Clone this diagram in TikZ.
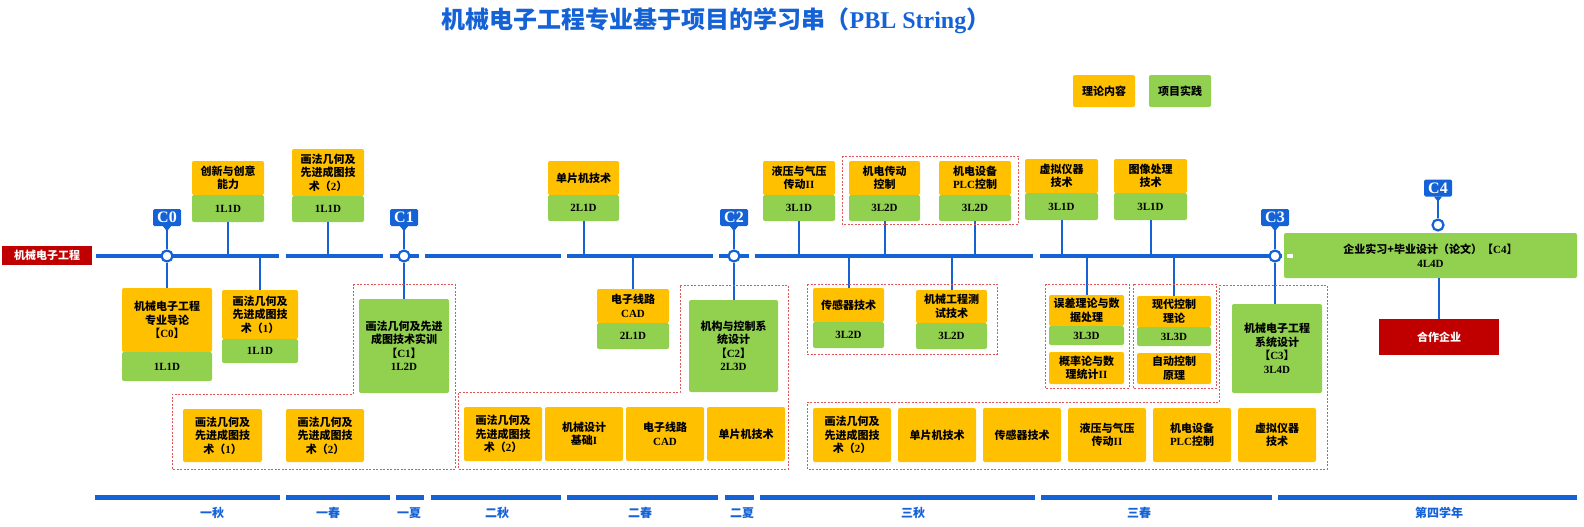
\documentclass[tikz,border=0pt]{standalone}
\usepackage{fontspec}
\setmainfont{Noto Sans CJK SC}
\newfontfamily\latinfont{Liberation Serif}
\usetikzlibrary{positioning, calc}
\definecolor{Orange}{HTML}{FFC000}
\definecolor{Green}{HTML}{92D050}
\definecolor{Blue}{HTML}{1462D6}
\definecolor{Deep}{HTML}{C00000}
\definecolor{Zone}{HTML}{E05555}
\newcommand{\tm}[1]{{\latinfont\bfseries #1}}
\newcommand{\huafa}[1]{画法几何及\\先进成图技\\术（\tm{#1}）}
\tikzset{
    lilun/.style={rectangle, rounded corners=2pt, fill=Orange, text=black, align=center, inner sep=1pt, outer sep=0pt, font=\fontsize{11}{13.5}\selectfont\bfseries},
    shijian/.style={lilun, fill=Green},
    code/.style={shijian, font=\fontsize{11}{13}\selectfont\latinfont\bfseries},
    spine/.style={Blue, line width=4pt},
    link/.style={Blue, line width=2pt},
    zone/.style={Zone, line width=0.7pt, dash pattern=on 2pt off 1.5pt},
    ctag/.style={rectangle, rounded corners=1.5pt, fill=Blue, text=white, minimum width=28pt, minimum height=17pt, inner sep=0pt, font=\fontsize{16}{16}\selectfont\latinfont\bfseries},
    cring/.style={circle, draw=Blue, fill=white, line width=2.2pt, minimum size=11pt, inner sep=0pt},
    redbox/.style={rectangle, fill=Deep, text=white, inner sep=0pt, font=\fontsize{11}{13}\selectfont\bfseries},
    termbar/.style={Blue, line width=5pt},
    termlabel/.style={text=Blue, inner sep=1pt, font=\fontsize{12}{14}\selectfont\bfseries},
}
\begin{document}
\begin{tikzpicture}[x=1pt, y=-1pt]
    \useasboundingbox (0,0) rectangle (1584,527);
    \coordinate (axis) at (0,256);

    % titel en legenda
    \node[font=\fontsize{24}{28}\selectfont\bfseries, text=Blue] (title) at (716,21) {机械电子工程专业基于项目的学习串（\tm{PBL String}）};
    \node[lilun, minimum width=62pt, minimum height=32pt] (leg1) at (1104,91) {理论内容};
    \node[shijian, minimum width=62pt, minimum height=32pt] (leg2) at (1180,91) {项目实践};

    % hoofdlijn
    \foreach \a/\b in {96/279, 286/383, 390/419, 425/561, 567/713, 719/749, 755/1033, 1040/1282}
        \draw[spine] (\a,256) -- (\b,256);
    \node[redbox, minimum width=90pt, minimum height=19pt] (major) at (47,255.5) {机械电子工程};

    % vakken boven de lijn
    \node[lilun, minimum width=72pt, minimum height=34pt] (cx) at (228,178) {创新与创意\\能力};
    \node[code, minimum width=72pt, minimum height=27pt, below=0pt of cx] (cx-d) {1L1D};
    \node[lilun, minimum width=72pt, minimum height=47pt] (hf2) at (328,172.5) {\huafa{2}};
    \node[code, minimum width=72pt, minimum height=26pt, below=0pt of hf2] (hf2-d) {1L1D};
    \node[lilun, minimum width=71pt, minimum height=34pt] (dp) at (583.5,178) {单片机技术};
    \node[code, minimum width=71pt, minimum height=26pt, below=0pt of dp] (dp-d) {2L1D};
    \node[lilun, minimum width=72pt, minimum height=34pt] (yy) at (799,178) {液压与气压\\传动\tm{II}};
    \node[code, minimum width=72pt, minimum height=26pt, below=0pt of yy] (yy-d) {3L1D};
    \node[lilun, minimum width=71pt, minimum height=34pt] (jd) at (884.5,178) {机电传动\\控制};
    \node[code, minimum width=71pt, minimum height=26pt, below=0pt of jd] (jd-d) {3L2D};
    \node[lilun, minimum width=72pt, minimum height=34pt] (plc) at (975,178) {机电设备\\\tm{PLC}控制};
    \node[code, minimum width=72pt, minimum height=26pt, below=0pt of plc] (plc-d) {3L2D};
    \node[lilun, minimum width=73pt, minimum height=34pt] (xn) at (1061.5,176) {虚拟仪器\\技术};
    \node[code, minimum width=73pt, minimum height=27pt, below=0pt of xn] (xn-d) {3L1D};
    \node[lilun, minimum width=73pt, minimum height=34pt] (tx) at (1150.5,176) {图像处理\\技术};
    \node[code, minimum width=73pt, minimum height=27pt, below=0pt of tx] (tx-d) {3L1D};
    \foreach \n in {cx, hf2, dp, yy, jd, plc, xn, tx}
        \draw[link] (\n-d.south) -- (\n-d.south |- axis);

    % vakken onder de lijn
    \node[lilun, minimum width=90pt, minimum height=64pt] (dl) at (167,320) {机械电子工程\\专业导论\\【\tm{C0}】};
    \node[code, minimum width=90pt, minimum height=29pt, below=0pt of dl] (dl-d) {1L1D};
    \node[lilun, minimum width=76pt, minimum height=49pt] (hf1) at (260,314.5) {\huafa{1}};
    \node[code, minimum width=76pt, minimum height=24pt, below=0pt of hf1] (hf1-d) {1L1D};
    \node[shijian, minimum width=90pt, minimum height=94pt] (sx1) at (404,346) {画法几何及先进\\成图技术实训\\【\tm{C1}】\\\tm{1L2D}};
    \node[lilun, minimum width=72pt, minimum height=34pt] (dz) at (633,306) {电子线路\\\tm{CAD}};
    \node[code, minimum width=72pt, minimum height=26pt, below=0pt of dz] (dz-d) {2L1D};
    \node[shijian, minimum width=89pt, minimum height=92pt] (sx2) at (733.5,346) {机构与控制系\\统设计\\【\tm{C2}】\\\tm{2L3D}};
    \node[lilun, minimum width=71pt, minimum height=34pt] (cg) at (848.5,305) {传感器技术};
    \node[code, minimum width=71pt, minimum height=26pt, below=0pt of cg] (cg-d) {3L2D};
    \node[lilun, minimum width=71pt, minimum height=33pt] (cs) at (951.5,306.5) {机械工程测\\试技术};
    \node[code, minimum width=71pt, minimum height=26pt, below=0pt of cs] (cs-d) {3L2D};
    \node[lilun, minimum width=75pt, minimum height=31pt] (wc) at (1086.5,310.5) {误差理论与数\\据处理};
    \node[code, minimum width=75pt, minimum height=19pt, below=0pt of wc] (wc-d) {3L3D};
    \node[lilun, minimum width=75pt, minimum height=32pt] (gl) at (1086.5,368) {概率论与数\\理统计\tm{II}};
    \node[lilun, minimum width=74pt, minimum height=31pt] (xd) at (1174,311.5) {现代控制\\理论};
    \node[code, minimum width=74pt, minimum height=19pt, below=0pt of xd] (xd-d) {3L3D};
    \node[lilun, minimum width=74pt, minimum height=31pt] (zd) at (1174,368.5) {自动控制\\原理};
    \node[shijian, minimum width=90pt, minimum height=89pt] (sx3) at (1277,348.5) {机械电子工程\\系统设计\\【\tm{C3}】\\\tm{3L4D}};
    \foreach \n in {hf1, dz, cg, cs, wc, xd}
        \draw[link] (\n.north |- axis) -- (\n.north);

    % mijlpalen C0--C3
    \foreach \x/\n in {167/0, 404/1, 734/2, 1275/3} {
        \node[ctag] (tag\n) at (\x,217.5) {C\n};
        \fill[Blue] ($(tag\n.south)+(-4,0)$) -- ($(tag\n.south)+(0,5)$) -- ($(tag\n.south)+(4,0)$) -- cycle;
        \node[cring] (ring\n) at (\x,256) {};
        \draw[Blue, line width=1.5pt] (tag\n.south) -- (ring\n.north);
    }
    \draw[link] (ring0.south) -- (dl.north);
    \draw[link] (ring1.south) -- (sx1.north);
    \draw[link] (ring2.south) -- (ring2.south |- sx2.north);
    \draw[link] (ring3.south) -- (ring3.south |- sx3.north);

    % vierde jaar
    \node[shijian, minimum width=293pt, minimum height=45pt] (qy) at (1430.5,255.5) {企业实习+毕业设计（论文）【\tm{C4}】\\\tm{4L4D}};
    \fill[white] (1287,254) rectangle (1293,258);
    \node[ctag] (tag4) at (1438,188) {C4};
    \fill[Blue] ($(tag4.south)+(-4,0)$) -- ($(tag4.south)+(0,5)$) -- ($(tag4.south)+(4,0)$) -- cycle;
    \node[cring] (ring4) at (1438,225) {};
    \draw[Blue, line width=1.5pt] (tag4.south) -- (ring4.north);
    \node[redbox, minimum width=120pt, minimum height=36pt] (hz) at (1439,337) {合作企业};
    \draw[link] (hz.north |- qy.south) -- (hz.north);

    % onderste rijen
    \node[lilun, minimum width=79pt, minimum height=53pt] (r1) at (222.5,435.5) {\huafa{1}};
    \node[lilun, minimum width=78pt, minimum height=53pt] (r2) at (325,435.5) {\huafa{2}};
    \node[lilun, minimum width=78pt, minimum height=54pt] (r3) at (503,434) {\huafa{2}};
    \node[lilun, minimum width=78pt, minimum height=54pt, right=3pt of r3] (r4) {机械设计\\基础\tm{I}};
    \node[lilun, minimum width=78pt, minimum height=54pt, right=3pt of r4] (r5) {电子线路\\\tm{CAD}};
    \node[lilun, minimum width=78pt, minimum height=54pt, right=3pt of r5] (r6) {单片机技术};
    \node[lilun, minimum width=78pt, minimum height=54pt] (r7) at (852,435) {\huafa{2}};
    \node[lilun, minimum width=78pt, minimum height=54pt, right=7pt of r7] (r8) {单片机技术};
    \node[lilun, minimum width=78pt, minimum height=54pt, right=7pt of r8] (r9) {传感器技术};
    \node[lilun, minimum width=78pt, minimum height=54pt, right=7pt of r9] (r10) {液压与气压\\传动\tm{II}};
    \node[lilun, minimum width=78pt, minimum height=54pt, right=7pt of r10] (r11) {机电设备\\\tm{PLC}控制};
    \node[lilun, minimum width=78pt, minimum height=54pt, right=7pt of r11] (r12) {虚拟仪器\\技术};

    % gestippelde groepen
    \draw[zone] (842,156) rectangle (1018,224);
    \draw[zone] (353,284) -- (455,284) -- (455,469) -- (172,469) -- (172,394) -- (353,394) -- cycle;
    \draw[zone] (680,285) -- (788,285) -- (788,469) -- (458,469) -- (458,392) -- (680,392) -- cycle;
    \draw[zone] (807,284) rectangle (997,354);
    \draw[zone] (1045,284) rectangle (1129,388);
    \draw[zone] (1133,284) rectangle (1216,388);
    \draw[zone] (1219,285) -- (1327,285) -- (1327,469) -- (807,469) -- (807,402) -- (1219,402) -- cycle;

    % semesters
    \foreach \a/\b/\m/\t [count=\i] in {95/280/212/一秋, 286/390/328/一春, 396/424/409/一夏, 431/561/497/二秋, 567/718/640/二春, 725/754/742/二夏, 760/1035/913/三秋, 1041/1272/1139/三春, 1278/1577/1439/第四学年} {
        \draw[termbar] (\a,497) -- (\b,497);
        \node[termlabel] (term\i) at (\m,513) {\t};
    }
\end{tikzpicture}
\end{document}
